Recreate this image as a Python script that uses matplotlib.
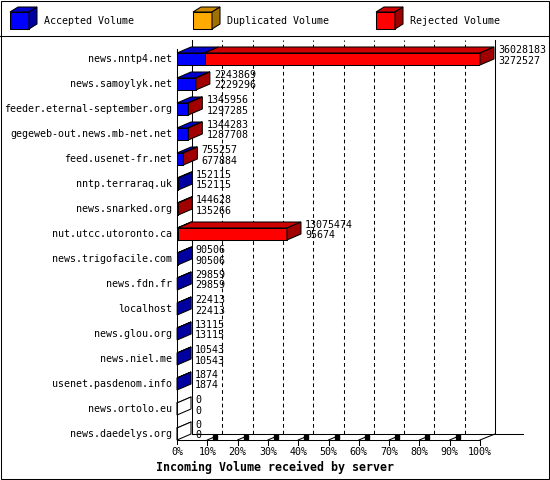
import numpy as np
import matplotlib
matplotlib.use('Agg')
import matplotlib.pyplot as plt
from matplotlib.patches import Polygon, Rectangle

servers = ['news.nntp4.net', 'news.samoylyk.net', 'feeder.eternal-september.org',
           'gegeweb-out.news.mb-net.net', 'feed.usenet-fr.net', 'nntp.terraraq.uk',
           'news.snarked.org', 'nut.utcc.utoronto.ca', 'news.trigofacile.com',
           'news.fdn.fr', 'localhost', 'news.glou.org', 'news.niel.me',
           'usenet.pasdenom.info', 'news.ortolo.eu', 'news.daedelys.org']
total = [36028183, 2243869, 1345956, 1344283, 755257, 152115, 144628, 13075474,
         90506, 29859, 22413, 13115, 10543, 1874, 0, 0]
accepted = [3272527, 2229296, 1297285, 1287708, 677884, 152115, 135266, 95674,
            90506, 29859, 22413, 13115, 10543, 1874, 0, 0]
duplicated = [0] * 16
series = ['Accepted Volume', 'Duplicated Volume', 'Rejected Volume']
ticks = [0, 10, 20, 30, 40, 50, 60, 70, 80, 90, 100]
title = 'Incoming Volume received by server'

# front, top, side
colours = {
    'Accepted Volume': ('#0000ff', '#0000cc', '#0000a0'),
    'Duplicated Volume': ('#ffaa00', '#cc8800', '#a07000'),
    'Rejected Volume': ('#ff0000', '#cc0000', '#a00000'),
}

plt.rcParams['font.family'] = ['DejaVu Sans Mono']
FS = 7.2
LW = 0.75

W, H = 550, 480
fig = plt.figure(figsize=(W / 100, H / 100), dpi=100)

# whole picture in pixels, for the frame and the legend
bg = fig.add_axes([0, 0, 1, 1])
bg.set_xlim(0, W)
bg.set_ylim(H, 0)
bg.axis('off')

# front plane of the 3d chart
X0, X1, YT, YB = 177, 480, 46, 440
ax = fig.add_axes([X0 / W, 1 - YB / H, (X1 - X0) / W, (YB - YT) / H])
ax.axis('off')
n = len(servers)
BAR_H = 0.48
floor = n - 1 + BAR_H / 2
top = -0.52
ax.set_xlim(0, 100)
ax.set_ylim(floor, top)

PX = 100 / (X1 - X0)
PY = (floor - top) / (YB - YT)
DXW, DYW = 15 * PX, -6 * PY
DXB, DYB = 14 * PX, -6 * PY

mx = max(total)
kw = dict(clip_on=False)

# back wall
for p in ticks[1:-1]:
    ax.plot([p + DXW] * 2, [floor + DYW, top + DYW], color='black', lw=LW,
            dashes=(3.6, 2.9), zorder=1, **kw)
for p in (0, 100):
    ax.plot([p + DXW] * 2, [floor + DYW, top + DYW], color='black', lw=LW, zorder=1, **kw)
ax.plot([DXW, 100 + DXW + 28 * PX], [floor + DYW] * 2, color='black', lw=LW, zorder=1, **kw)

# front axes
ax.plot([0, 100], [floor, floor], color='black', lw=LW, zorder=5, **kw)
ax.plot([100, 100 + DXW], [floor, floor + DYW], color='black', lw=LW, zorder=5, **kw)
ax.plot([0, 0], [top + 3 * PY, floor + 4 * PY], color='black', lw=LW, zorder=5, **kw)
for p in ticks[1:]:
    ax.plot([p, p], [floor, floor + 5 * PY], color='black', lw=LW, zorder=5, **kw)
    if p < 100:
        ax.plot([p, p + 7 * PX], [floor, floor - 3 * PY], color='black', lw=LW, zorder=5, **kw)
        ax.plot(p + 8 * PX, floor - 3.5 * PY, marker='s', ms=2.2, color='black', zorder=5, **kw)
for p in ticks:
    ax.text(p, floor + 12 * PY, f'{p}%', ha='center', va='center', fontsize=FS, **kw)

# bars
for i in range(n):
    rej = total[i] - accepted[i] - duplicated[i]
    vals = [accepted[i], duplicated[i], rej]
    yt, yb = i - BAR_H / 2, i + BAR_H / 2
    x = 0.0
    last = None
    for name, v in zip(series, vals):
        w = v / mx * 100
        if w <= 0:
            continue
        front, topc, side = colours[name]
        ax.barh(i, w, left=x, height=BAR_H, color=front, edgecolor='black',
                lw=LW, zorder=3)
        ax.add_patch(Polygon([(x, yt), (x + w, yt), (x + w + DXB, yt + DYB),
                              (x + DXB, yt + DYB)], closed=True, facecolor=topc,
                             edgecolor='black', lw=LW, zorder=3, **kw))
        x += w
        last = name
    if last is None:
        ax.plot([0, 0], [yt, yb], color='black', lw=LW, zorder=3)
        ax.plot([0, DXB], [yt, yt + DYB], color='black', lw=LW, zorder=3, **kw)
        sidec = 'white'
    else:
        sidec = colours[last][2]
    ax.add_patch(Polygon([(x, yt), (x + DXB, yt + DYB), (x + DXB, yb + DYB), (x, yb)],
                         closed=True, facecolor=sidec, edgecolor='black', lw=LW,
                         zorder=3, **kw))
    lx = x + DXB + 4 * PX
    ax.text(lx, i - 9 * PY, str(total[i]), ha='left', va='center', fontsize=FS, zorder=6, **kw)
    ax.text(lx, i + 1.5 * PY, str(accepted[i]), ha='left', va='center', fontsize=FS, zorder=6, **kw)
    ax.text(-5 * PX, i, servers[i], ha='right', va='center', fontsize=FS, **kw)

# frame
bg.add_patch(Rectangle((0.5, 0.5), 548.5, 478, fill=False, edgecolor='black', lw=LW))
bg.plot([0, W], [35.5, 35.5], color='black', lw=LW)

# legend
for k, name in enumerate(series):
    front, topc, side = colours[name]
    x0 = 10 + 183 * k
    bg.add_patch(Rectangle((x0, 12), 19, 17, facecolor=front, edgecolor='black', lw=LW))
    bg.add_patch(Polygon([(x0, 12), (x0 + 19, 12), (x0 + 27, 7), (x0 + 8, 7)],
                         closed=True, facecolor=topc, edgecolor='black', lw=LW))
    bg.add_patch(Polygon([(x0 + 19, 12), (x0 + 27, 7), (x0 + 27, 24), (x0 + 19, 29)],
                         closed=True, facecolor=side, edgecolor='black', lw=LW))
    bg.text(x0 + 34, 20.5, name, ha='left', va='center', fontsize=FS)

bg.text(275, 467, title, ha='center', va='center', fontsize=8.4, fontweight='bold')

fig.savefig('out.png', dpi=100)
